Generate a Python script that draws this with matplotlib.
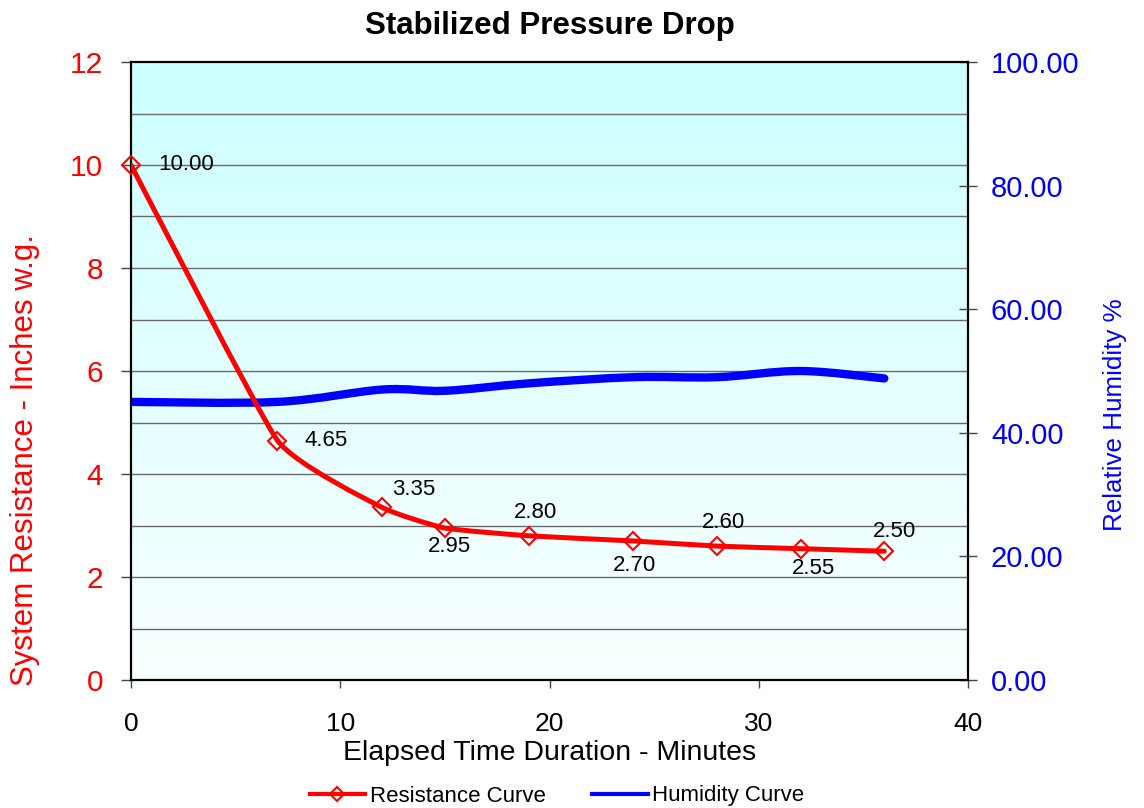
import numpy as np
import matplotlib
matplotlib.use("Agg")
import matplotlib.pyplot as plt
from matplotlib.path import Path
from matplotlib.patches import PathPatch
from matplotlib.lines import Line2D
from matplotlib.ticker import MultipleLocator, FixedLocator, FormatStrFormatter

plt.rcParams['font.family'] = ['Liberation Sans', 'DejaVu Sans']

# ---- data ----
time_min = [0, 7, 12, 15, 19, 24, 28, 32, 36]
resistance = [10.00, 4.65, 3.35, 2.95, 2.80, 2.70, 2.60, 2.55, 2.50]
humidity = [45.0, 45.0, 47.0, 46.8, 48.0, 49.0, 49.0, 50.0, 48.8]
res_labels = ["10.00", "4.65", "3.35", "2.95", "2.80", "2.70", "2.60", "2.55", "2.50"]

title = "Stabilized Pressure Drop"
xlabel = "Elapsed Time Duration - Minutes"
ylabel_left = "System Resistance - Inches w.g."
ylabel_right = "Relative Humidity %"
legend_labels = ["Resistance Curve", "Humidity Curve"]

# label offsets (points) relative to each marker -- styling only
label_offsets = [(40, 0), (35, 0), (23, 13), (3, -13), (5, 16.5),
                 (1, -18), (5, 17), (9, -14), (7.5, 14)]


def smooth_path(xs, ys, k=0.11):
    """Excel-like smoothed line: cubic Bezier segments with Catmull-Rom tangents."""
    pts = np.column_stack([xs, ys]).astype(float)
    n = len(pts)
    verts = [pts[0]]
    codes = [Path.MOVETO]
    for i in range(n - 1):
        p0 = pts[i - 1] if i > 0 else pts[i]
        p1 = pts[i]
        p2 = pts[i + 1]
        p3 = pts[i + 2] if i + 2 < n else pts[i + 1]
        c1 = p1 + (p2 - p0) * k
        c2 = p2 - (p3 - p1) * k
        verts += [c1, c2, p2]
        codes += [Path.CURVE4] * 3
    return Path(verts, codes)


fig = plt.figure(figsize=(11.44, 8.08), dpi=100)
ax = fig.add_axes([131 / 1144, 1 - 680 / 808, 837 / 1144, 618 / 808])
ax2 = ax.twinx()
ax.set_zorder(2)
ax2.set_zorder(1)
ax.patch.set_visible(False)

# gradient background on ax2
grad = np.linspace(0, 1, 256).reshape(-1, 1)
top = np.array([204, 255, 255]) / 255
bot = np.array([250, 255, 255]) / 255
img = top[None, None, :] * (1 - grad[:, :, None]) + bot[None, None, :] * grad[:, :, None]
ax2.imshow(img, extent=[0, 40, 0, 100], aspect='auto', origin='upper', zorder=0)

ax.set_xlim(0, 40)
ax.set_ylim(0, 12)
ax2.set_ylim(0, 100)
ax2.set_xlim(0, 40)

# gridlines (every 1 unit of left axis) drawn on ax2 below the curves
ax2.yaxis.set_minor_locator(MultipleLocator(100 / 12))
ax2.grid(which='minor', axis='y', color='#6a6a6a', linewidth=1.0, zorder=0.5)
ax2.grid(which='major', axis='y', visible=False)
ax2.set_axisbelow(True)

# humidity curve
hp = PathPatch(smooth_path(time_min, humidity, k=1 / 6), facecolor='none', edgecolor='#0000FF',
               linewidth=6, capstyle='round', joinstyle='round', zorder=3)
ax2.add_patch(hp)

# resistance curve
rp = PathPatch(smooth_path(time_min, resistance, k=0.07), facecolor='none', edgecolor='#FF0000',
               linewidth=3.6, capstyle='round', joinstyle='round', zorder=3)
ax.add_patch(rp)
ax.plot(time_min, resistance, linestyle='none', marker='D', markersize=9,
        markerfacecolor='none', markeredgecolor='#FF0000', markeredgewidth=1.5,
        zorder=4, clip_on=False)

for x, y, lab, (dx, dy) in zip(time_min, resistance, res_labels, label_offsets):
    ax.annotate(lab, (x, y), xytext=(dx, dy), textcoords='offset points',
                ha='center', va='center', fontsize=16, color='black', zorder=5)

# axes styling
for sp in ax.spines.values():
    sp.set_linewidth(1.6)
    sp.set_color('black')
for sp in ax2.spines.values():
    sp.set_visible(False)

ax.xaxis.set_major_locator(FixedLocator([0, 10, 20, 30, 40]))
ax.yaxis.set_major_locator(FixedLocator([0, 2, 4, 6, 8, 10, 12]))
ax.tick_params(axis='x', direction='out', length=6, width=1, colors='#444444',
               labelcolor='black', labelsize=19, pad=17)
ax.tick_params(axis='y', direction='out', length=7, width=1, colors='#444444',
               labelcolor='#FF0000', labelsize=21.5, pad=13)

ax2.yaxis.set_major_locator(FixedLocator([0, 20, 40, 60, 80, 100]))
ax2.yaxis.set_major_formatter(FormatStrFormatter('%.2f'))
ax2.tick_params(axis='y', which='major', direction='inout', length=13, width=1,
                colors='#444444', labelcolor='#0000FF', labelsize=21, pad=10)
ax2.tick_params(axis='y', which='minor', length=0)

ax.set_xlabel(xlabel, fontsize=20.5, color='black')
ax.xaxis.set_label_coords(0.5, -0.097)
ax.set_ylabel(ylabel_left, fontsize=22.5, color='#FF0000')
ax.yaxis.set_label_coords(-0.109, 0.356)
ax2.set_ylabel(ylabel_right, fontsize=18.7, color='#0000FF')
ax2.yaxis.set_label_coords(1.161, 0.43)

ax.set_title(title, fontsize=22.5, fontweight='bold', pad=20)

handles = [Line2D([], [], color='#FF0000', linewidth=3, marker='D', markersize=7,
                  markerfacecolor='none', markeredgecolor='#FF0000', markeredgewidth=1.5),
           Line2D([], [], color='#0000FF', linewidth=3)]
fig.legend(handles, legend_labels, loc='center', bbox_to_anchor=(557 / 1144, 1 - 796 / 808),
           ncol=2, frameon=False, fontsize=16, handlelength=2.5, columnspacing=2.1,
           handletextpad=0.2, numpoints=1)

fig.savefig('out.png', dpi=100)
